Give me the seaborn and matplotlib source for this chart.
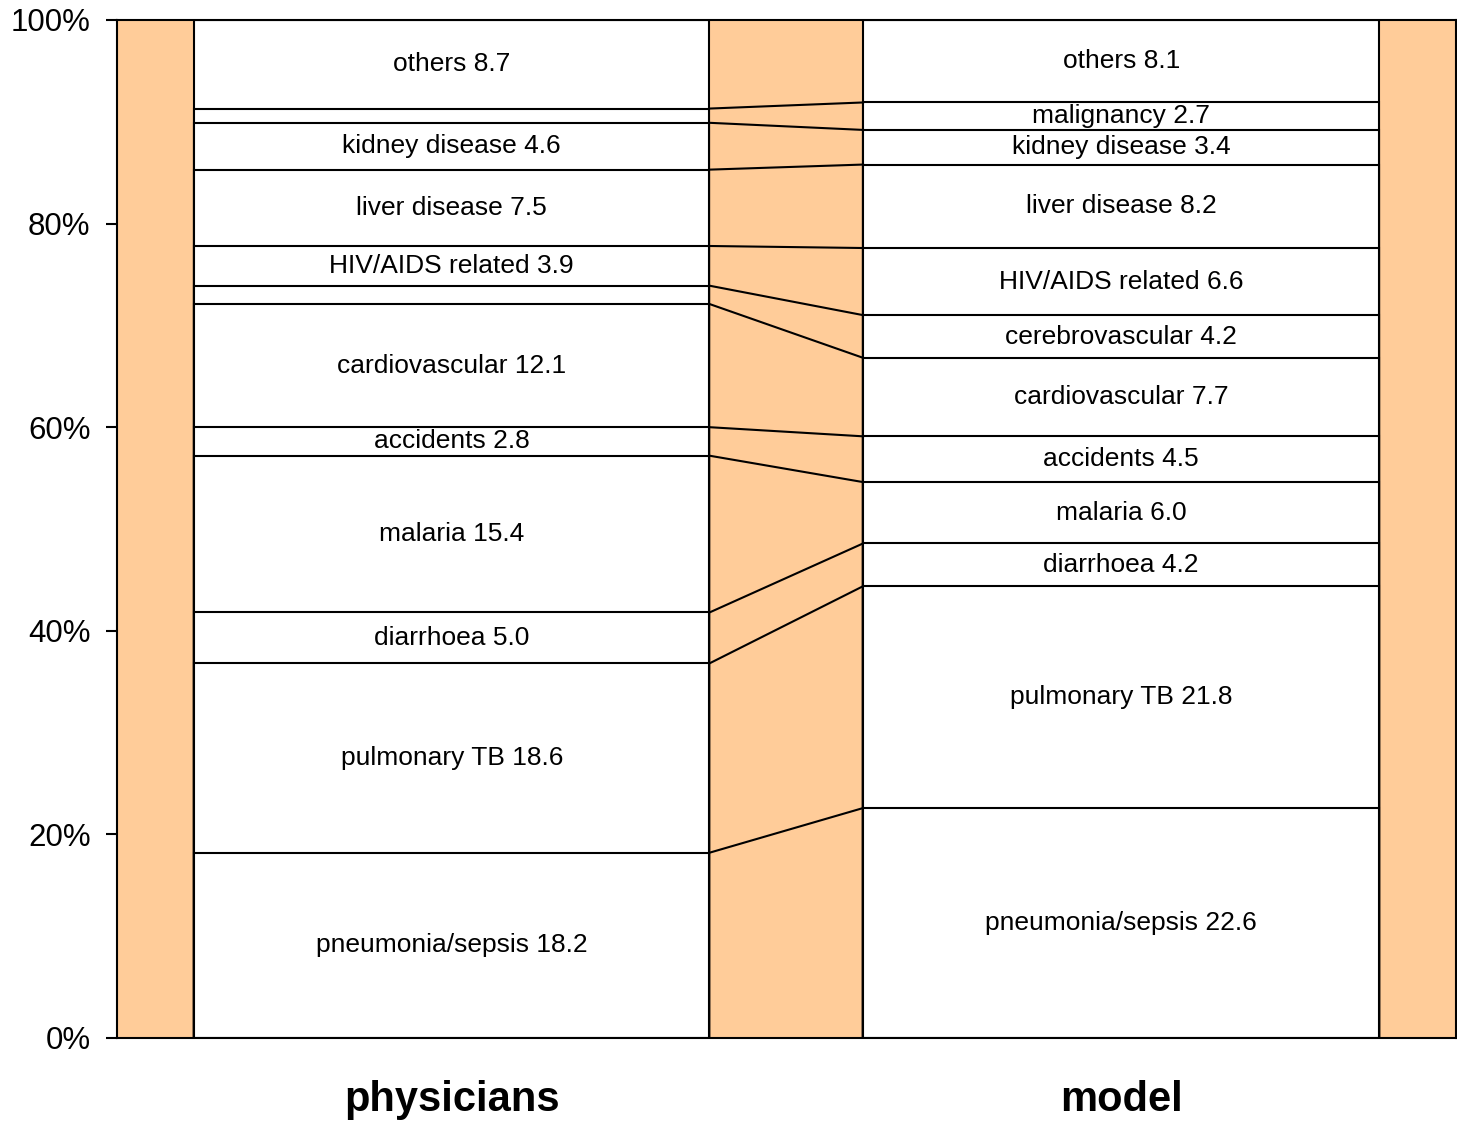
"""
Cause-of-death distribution: physician review vs model, stacked 100% bars.
"""
import numpy as np
import pandas as pd
import matplotlib
matplotlib.use("Agg")
import matplotlib.pyplot as plt
import seaborn as sns

# data, bottom to top
causes = ["pneumonia/sepsis", "pulmonary TB", "diarrhoea", "malaria", "accidents",
          "cardiovascular", "cerebrovascular", "HIV/AIDS related", "liver disease",
          "kidney disease", "malignancy", "others"]
physicians = [18.2, 18.6, 5.0, 15.4, 2.8, 12.1, 1.8, 3.9, 7.5, 4.6, 1.4, 8.7]
model = [22.6, 21.8, 4.2, 6.0, 4.5, 7.7, 4.2, 6.6, 8.2, 3.4, 2.7, 8.1]
sources = ["physicians", "model"]
# segments too thin to carry a label
unlabeled = {("physicians", "cerebrovascular"), ("physicians", "malignancy")}

sns.set_style("ticks")
plt.rcParams["font.family"] = ["Liberation Sans", "DejaVu Sans"]
plt.rcParams["text.color"] = "black"
plt.rcParams["xtick.color"] = "black"
plt.rcParams["ytick.color"] = "black"

rows = []
for src, vals in zip(sources, [physicians, model]):
    cum = np.cumsum(vals)
    for i, c in enumerate(causes):
        rows.append({"source": src, "cause": c, "value": vals[i],
                     "top": cum[i], "bottom": cum[i] - vals[i]})
df = pd.DataFrame(rows)

fig = plt.figure(figsize=(14.57, 11.23), dpi=100)
ax = fig.add_axes([0.0803, 0.0757, 0.9190, 0.9065])
ax.set_facecolor("#FFCC99")

bar_w = 0.77
# draw cumulative bars from the top down so each layer covers the one beneath
for c in reversed(causes):
    sub = df[df["cause"] == c]
    sns.barplot(data=sub, x="source", y="top", order=sources, color="white",
                edgecolor="black", linewidth=1.5, width=bar_w, saturation=1,
                errorbar=None, ax=ax)

# connectors between matching boundaries
half = bar_w / 2
for i, c in enumerate(causes[:-1]):
    y0 = df[(df.source == "physicians") & (df.cause == c)]["top"].iloc[0]
    y1 = df[(df.source == "model") & (df.cause == c)]["top"].iloc[0]
    ax.plot([0 + half, 1 - half], [y0, y1], color="black", lw=1.5)

# segment labels
for _, r in df.iterrows():
    if (r["source"], r["cause"]) in unlabeled:
        continue
    x = sources.index(r["source"])
    ax.text(x, (r["top"] + r["bottom"]) / 2, f"{r['cause']} {r['value']:.1f}",
            ha="center", va="center", fontsize=19, color="black")

ax.set_xlim(-0.5, 1.5)
ax.set_ylim(0, 100)
ax.set_yticks(np.arange(0, 101, 20))
ax.set_yticklabels([f"{t}%" for t in range(0, 101, 20)], fontsize=22.5, color="black")
ax.set_xticks([0, 1])
ax.set_xticklabels(sources, fontsize=30, fontweight="bold", color="black")
ax.tick_params(axis="x", length=0, pad=30)
ax.tick_params(axis="y", length=8, width=1.5, pad=11)
ax.set_xlabel("")
ax.set_ylabel("")
for sp in ax.spines.values():
    sp.set_visible(True)
    sp.set_linewidth(1.5)
    sp.set_color("black")

fig.savefig("out.png", dpi=100)
